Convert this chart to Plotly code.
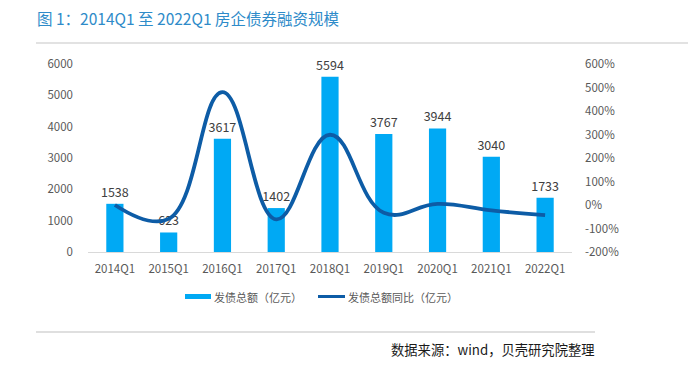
import plotly.graph_objects as go

categories = ["2014Q1", "2015Q1", "2016Q1", "2017Q1", "2018Q1", "2019Q1", "2020Q1", "2021Q1", "2022Q1"]
issuance = [1538, 623, 3617, 1402, 5594, 3767, 3944, 3040, 1733]
yoy_pct = [0, -59, 480, -61, 299, -33, 5, -23, -43]
left_ticks = [0, 1000, 2000, 3000, 4000, 5000, 6000]
right_ticks = [-200, -100, 0, 100, 200, 300, 400, 500, 600]
right_labels = [f"{v}%" for v in right_ticks]

# page body has an 8px margin; compensate so the picture lands where the reference is
OFF = 8
W, H = 696, 372
L, R, T, B = 88 - OFF, 572 - OFF, 64 - OFF, 252 - OFF
def px(x):
    return (x - OFF - L) / (R - L)
def py(y):
    return (B - (y - OFF)) / (B - T)

FONT = "Microsoft YaHei, Noto Sans CJK SC, sans-serif"
BAR_C = "#00A9F4"
LINE_C = "#0D5CA6"

fig = go.Figure()
fig.add_trace(go.Bar(
    x=categories, y=issuance, name="发债总额（亿元）",
    marker=dict(color=BAR_C, line=dict(width=0)), width=0.32,
    text=[str(v) for v in issuance], textposition="outside", constraintext="none",
    textfont=dict(size=12.5, color="#404040", family=FONT),
    cliponaxis=False, showlegend=False,
))
fig.add_trace(go.Scatter(
    x=categories, y=yoy_pct, yaxis="y2", mode="lines", name="发债总额同比（亿元）",
    line=dict(color=LINE_C, width=3.8, shape="spline", smoothing=1.2),
    showlegend=False, cliponaxis=False,
))

fig.update_layout(
    width=W, height=H,
    margin=dict(l=L, r=W - R, t=T, b=H - B, autoexpand=False),
    paper_bgcolor="white", plot_bgcolor="white",
    font=dict(family=FONT, size=11.5, color="#595959"),
    xaxis=dict(range=[-0.5, 8.5], showline=True, linecolor="#D9D9D9", linewidth=1,
               showgrid=False, ticks="", tickfont=dict(size=11.5, color="#595959"),
               ticklabelstandoff=6, automargin=False),
    yaxis=dict(range=[0, 6000], tickvals=left_ticks, showgrid=False, zeroline=False,
               showline=False, ticks="", tickfont=dict(size=11.5, color="#595959"),
               ticklabelstandoff=14, automargin=False),
    yaxis2=dict(range=[-200, 600], tickvals=right_ticks, ticktext=right_labels, overlaying="y",
                side="right", showgrid=False, zeroline=False, showline=False, ticks="",
                tickfont=dict(size=11.5, color="#595959"), ticklabelstandoff=12,
                automargin=False),
)

shapes = [
    dict(type="line", xref="paper", yref="paper", x0=px(36), x1=px(700), y0=py(43), y1=py(43),
         line=dict(color="#D9D9D9", width=1.5)),
    dict(type="line", xref="paper", yref="paper", x0=px(36), x1=px(595), y0=py(332), y1=py(332),
         line=dict(color="#BFBFBF", width=1)),
    dict(type="rect", xref="paper", yref="paper", x0=px(185), x1=px(211), y0=py(299), y1=py(294),
         fillcolor=BAR_C, line=dict(width=0)),
    dict(type="line", xref="paper", yref="paper", x0=px(318), x1=px(345), y0=py(296.5), y1=py(296.5),
         line=dict(color=LINE_C, width=3)),
]
annotations = [
    dict(text="图 1：2014Q1 至 2022Q1 房企债券融资规模", xref="paper", yref="paper",
         x=px(35), y=py(18), xanchor="left", yanchor="middle", showarrow=False,
         font=dict(size=15.5, color="#2E8BC9", family=FONT)),
    dict(text="发债总额（亿元）", xref="paper", yref="paper", x=px(212), y=py(296.5),
         xanchor="left", yanchor="middle", showarrow=False,
         font=dict(size=11, color="#595959", family=FONT)),
    dict(text="发债总额同比（亿元）", xref="paper", yref="paper", x=px(346), y=py(296.5),
         xanchor="left", yanchor="middle", showarrow=False,
         font=dict(size=11, color="#595959", family=FONT)),
    dict(text="数据来源：wind，贝壳研究院整理", xref="paper", yref="paper", x=px(597), y=py(349),
         xanchor="right", yanchor="middle", showarrow=False,
         font=dict(size=13.3, color="#1A1A1A", family=FONT)),
]
fig.update_layout(shapes=shapes, annotations=annotations)

fig.write_html("out.html")
